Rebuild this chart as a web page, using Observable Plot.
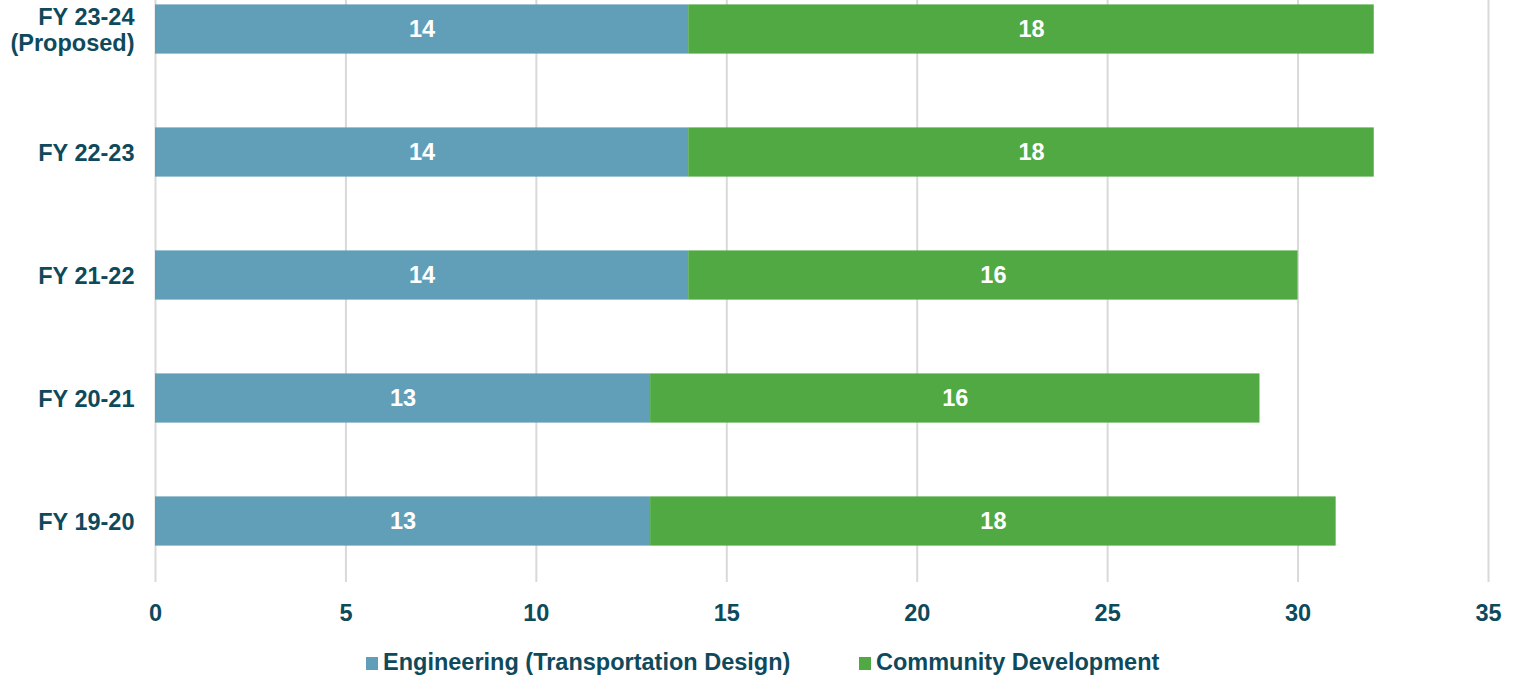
<!DOCTYPE html>
<html>
<head>
<meta charset="utf-8">
<script src="https://cdn.jsdelivr.net/npm/d3@7"></script>
<script src="https://cdn.jsdelivr.net/npm/@observablehq/plot@0.6"></script>
<style>
  html, body { margin: 0; padding: 0; background: #fff; }
  body { width: 1513px; height: 676px; overflow: hidden; position: relative;
         font-family: "Liberation Sans", Arial, sans-serif; }
  #legend { position: absolute; left: 0; top: 645px; width: 1513px; height: 34px; }
  .item { position: absolute; top: 0; height: 34px; display: flex; align-items: center;
          font-weight: bold; font-size: 23.5px; color: #0e4a5b; white-space: nowrap; }
  .sw { width: 12px; height: 13px; margin-right: 5px; margin-top: 2px; }
</style>
</head>
<body>
<div id="chart"></div>
<div id="legend"></div>
<script>
const years = ["FY 23-24\n(Proposed)", "FY 22-23", "FY 21-22", "FY 20-21", "FY 19-20"];
const engineering = [14, 14, 14, 13, 13];
const community = [18, 18, 16, 16, 18];
const seriesNames = ["Engineering (Transportation Design)", "Community Development"];
const seriesColors = ["#619fb9", "#50a942"];
const xTicks = [0, 5, 10, 15, 20, 25, 30, 35];

const rows = [];
years.forEach((y, i) => rows.push({year: y, series: seriesNames[0], value: engineering[i]}));
years.forEach((y, i) => rows.push({year: y, series: seriesNames[1], value: community[i]}));

const textColor = "#0e4a5b";
const font = "\"Liberation Sans\", Arial, sans-serif";

const chart = Plot.plot({
  width: 1513,
  height: 640,
  marginLeft: 155,
  marginRight: 25,
  marginTop: 0,
  marginBottom: 58,
  style: {fontFamily: font, fontSize: "23.5px", fontWeight: "bold", color: textColor, background: "#fff"},
  x: {domain: [0, 35], ticks: xTicks, label: null},
  y: {domain: years, range: [-69.4, 619.4], padding: 0.6, round: false, label: null},
  color: {domain: seriesNames, range: seriesColors},
  marks: [
    Plot.gridX(xTicks, {stroke: "#d9d9d9", strokeOpacity: 1, strokeWidth: 2}),
    Plot.barX(rows, Plot.stackX({x: "value", y: "year", fill: "series", order: null})),
    Plot.text(rows, Plot.stackX({x: "value", y: "year", z: "series", order: null, text: d => String(d.value),
      fill: "#fff", fontSize: 23.5, fontWeight: "bold"})),
    Plot.axisX({ticks: xTicks, tickSize: 0, tickPadding: 22, label: null, fontSize: 23.5, fontWeight: "bold", fill: textColor}),
    Plot.axisY({tickSize: 0, tickPadding: 21, label: null, fontSize: 23.5, fontWeight: "bold", fill: textColor, lineHeight: 1.1})
  ]
});
document.getElementById("chart").appendChild(chart);

const legend = document.getElementById("legend");
const lefts = [366, 859];
seriesNames.forEach((name, i) => {
  const item = document.createElement("div");
  item.className = "item";
  item.style.left = lefts[i] + "px";
  const sw = document.createElement("span");
  sw.className = "sw";
  sw.style.background = seriesColors[i];
  const t = document.createElement("span");
  t.textContent = name;
  item.appendChild(sw);
  item.appendChild(t);
  legend.appendChild(item);
});
</script>
</body>
</html>
